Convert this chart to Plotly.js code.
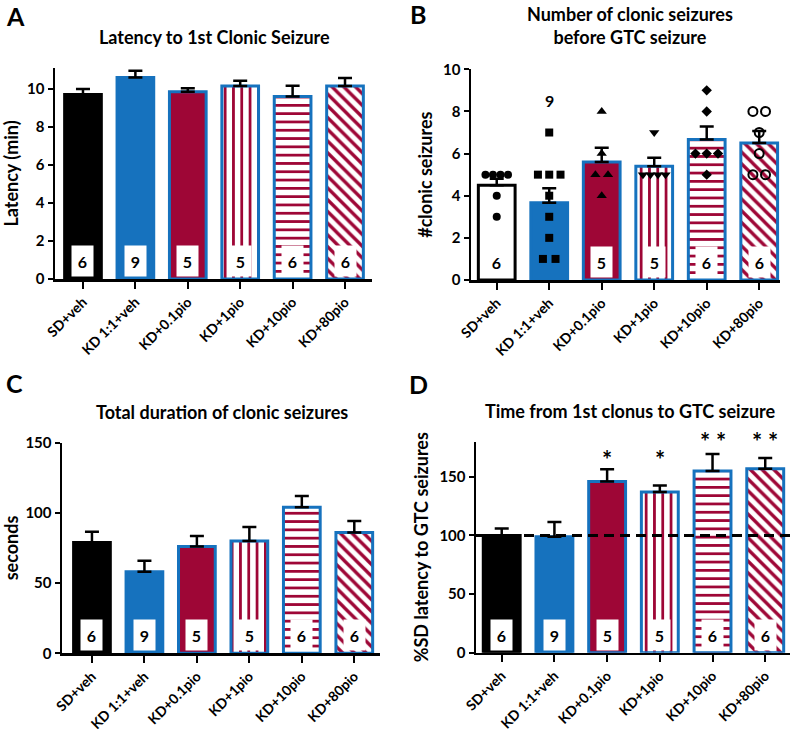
<!DOCTYPE html>
<html>
<head>
<meta charset="utf-8">
<script src="https://cdn.plot.ly/plotly-3.0.1.min.js"></script>
<style>html,body{margin:0;padding:0;background:#fff;}#chart{width:800px;height:731px;}</style>
</head>
<body>
<div id="chart"></div>
<script>
// ---------------- data ----------------
const categories = ['SD+veh', 'KD 1:1+veh', 'KD+0.1pio', 'KD+1pio', 'KD+10pio', 'KD+80pio'];
const nAnimals = [6, 9, 5, 5, 6, 6];

const latencyMean = [9.7, 10.6, 9.85, 10.15, 9.6, 10.15];
const latencySem = [0.3, 0.35, 0.18, 0.28, 0.57, 0.42];

const clonicMean = [4.5, 3.67, 5.6, 5.4, 6.67, 6.5];
const clonicSem = [0.3, 0.68, 0.68, 0.4, 0.61, 0.57];
const clonicPoints = [
  [5, 5, 5, 5, 4, 3],
  [7, 5, 5, 5, 4, 3, 2, 1, 1],
  [8, 6, 5, 5, 4],
  [7, 5, 5, 5, 5],
  [9, 8, 6, 6, 6, 5],
  [8, 8, 7, 6, 5, 5]
];

const durationMean = [79, 58, 76, 80, 104, 86];
const durationSem = [7.6, 8, 7.6, 10, 8, 8.3];

const gtcMean = [100, 99, 146, 137, 155, 157];
const gtcSem = [6, 12.5, 10.5, 5.7, 14.5, 9];
const gtcSig = ['', '', '*', '*', '**', '**'];

// ---------------- styles ----------------
const BLUE = '#1672be';
const CRIMSON = '#9e0636';
const FONT = 'Lato, "Open Sans", Arial, sans-serif';
const xs = categories.map((c, i) => i);
const fills = ['black', BLUE, CRIMSON, 'white', 'white', 'white'];
const lines = ['black', BLUE, BLUE, BLUE, BLUE, BLUE];
const patterns = ['', '', '', '|', '-', '\\'];

const traces = [];
function addBars(mean, sem, xa, ya, firstFill) {
  categories.forEach((c, i) => {
    const marker = {color: i === 0 ? firstFill : fills[i], line: {color: lines[i], width: 3}};
    if (patterns[i]) {
      marker.pattern = {shape: patterns[i], fgcolor: CRIMSON, bgcolor: 'white',
                        fillmode: 'replace', size: 8.3, solidity: patterns[i] === '\\' ? 0.4 : 0.34};
    }
    traces.push({
      type: 'bar', x: [xs[i]], y: [mean[i]], xaxis: xa, yaxis: ya, width: 0.7,
      marker: marker,
      error_y: {type: 'data', symmetric: false, array: [sem[i]], arrayminus: [0],
                color: 'black', thickness: 2.5, width: 7},
      hoverinfo: 'skip', showlegend: false
    });
  });
}
addBars(latencyMean, latencySem, 'x', 'y', 'black');
addBars(clonicMean, clonicSem, 'x2', 'y2', 'white');
addBars(durationMean, durationSem, 'x3', 'y3', 'black');
addBars(gtcMean, gtcSem, 'x4', 'y4', 'black');

// individual points in panel B, spread side by side where values coincide
const symbols = ['circle', 'square', 'triangle-up', 'triangle-down', 'diamond', 'circle-open'];
clonicPoints.forEach((pts, i) => {
  const counts = {}, seen = {};
  pts.forEach(v => counts[v] = (counts[v] || 0) + 1);
  const px = pts.map(v => {
    const k = counts[v];
    const j = seen[v] = (seen[v] === undefined ? 0 : seen[v] + 1);
    const sp = k > 1 ? Math.min(0.24, 0.43 / (k - 1)) : 0;
    return i + (j - (k - 1) / 2) * sp;
  });
  traces.push({
    type: 'scatter', mode: 'markers', x: px, y: pts, xaxis: 'x2', yaxis: 'y2',
    marker: {symbol: symbols[i], color: 'black', size: i === 5 ? 9 : (i >= 2 && i <= 3 ? 9 : 8),
             line: {color: 'black', width: i === 5 ? 2 : 0}},
    cliponaxis: false, hoverinfo: 'skip', showlegend: false
  });
});

const tickFont = {family: FONT, size: 15, color: 'black', weight: 'bold'};
function xAxis(domain, range, anchor) {
  return {domain: domain, range: range, anchor: anchor, tickmode: 'array', tickvals: xs,
          ticktext: categories, tickangle: -45, showline: true, linecolor: 'black', linewidth: 2.5,
          ticks: 'outside', ticklen: 7, tickwidth: 2, tickcolor: 'black', showgrid: false,
          zeroline: false, tickfont: {family: FONT, size: 14, color: 'black', weight: 'bold'},
          fixedrange: true};
}
function yAxis(domain, range, dtick, anchor, title) {
  return {domain: domain, range: range, anchor: anchor, dtick: dtick, tick0: 0, showline: true,
          linecolor: 'black', linewidth: 2.5, ticks: 'outside', ticklen: 5, tickwidth: 2,
          tickcolor: 'black', showgrid: false, zeroline: false, tickfont: tickFont,
          title: {text: title, font: {family: FONT, size: 18, color: 'black', weight: 'bold'}, standoff: 6},
          fixedrange: true};
}

const annotations = [];
function nLabels(xa, ya, skipIndex, altY) {
  nAnimals.forEach((n, i) => {
    if (i === skipIndex) {
      annotations.push({x: i, y: altY, xref: xa, yref: ya, text: String(n), showarrow: false,
        font: {family: FONT, size: 16, color: 'black', weight: 'bold'}});
    } else {
      annotations.push({x: i, y: 0, xref: xa, yref: ya, yanchor: 'bottom', yshift: 2,
        text: String(n), showarrow: false, bgcolor: 'white', width: 19, height: 28,
        font: {family: FONT, size: 16, color: 'black', weight: 'bold'}});
    }
  });
}
nLabels('x', 'y', -1);
nLabels('x2', 'y2', 1, Math.max(...clonicPoints[1]) + 1.5);
nLabels('x3', 'y3', -1);
nLabels('x4', 'y4', -1);

gtcSig.forEach((s, i) => {
  if (!s) return;
  annotations.push({x: i, y: s.length > 1 ? 180 : 165, xref: 'x4', yref: 'y4', yanchor: 'middle',
    text: s.split('').join(' '), showarrow: false,
    font: {family: FONT, size: 24, color: 'black', weight: 'bold'}});
});

function paperText(text, px, py, size) {
  annotations.push({x: px / 800, y: 1 - py / 731, xref: 'paper', yref: 'paper', text: text,
    showarrow: false, xanchor: 'center', yanchor: 'middle',
    font: {family: FONT, size: size, color: 'black', weight: 'bold'}});
}
paperText('A', 15, 16, 25);
paperText('B', 418, 14, 25);
paperText('C', 14, 383, 25);
paperText('D', 418, 384, 25);
paperText('Latency to 1st Clonic Seizure', 214, 37, 18);
paperText('Number of clonic seizures<br>before GTC seizure', 630, 25, 18);
paperText('Total duration of clonic seizures', 222, 412, 18);
paperText('Time from 1st clonus to GTC seizure', 630, 411, 18);

const dy = (a, b) => [1 - a / 731, 1 - b / 731];
const layout = {
  width: 800, height: 731, margin: {l: 0, r: 0, t: 0, b: 0},
  paper_bgcolor: 'white', plot_bgcolor: 'white', barmode: 'overlay', showlegend: false,
  font: {family: FONT, color: 'black'},
  xaxis: xAxis([55 / 800, 372 / 800], [-0.534, 5.515], 'y'),
  yaxis: yAxis(dy(279, 68), [0, 11.1], 2, 'x', 'Latency (min)'),
  xaxis2: xAxis([471 / 800, 780 / 800], [-0.49, 5.396], 'y2'),
  yaxis2: yAxis(dy(280, 69.3), [0, 10], 2, 'x2', '#clonic seizures'),
  xaxis3: xAxis([62 / 800, 380 / 800], [-0.571, 5.49], 'y3'),
  yaxis3: yAxis(dy(653.3, 442.7), [0, 150], 50, 'x3', 'seconds'),
  xaxis4: xAxis([476 / 800, 790 / 800], [-0.488, 5.47], 'y4'),
  yaxis4: yAxis(dy(652.7, 441.7), [0, 180], 50, 'x4', '%SD latency to GTC seizures'),
  shapes: [{type: 'line', xref: 'x4', yref: 'y4', x0: -0.488, x1: 5.55, y0: gtcMean[0], y1: gtcMean[0],
            line: {color: 'black', width: 3, dash: '10px,6px'}, layer: 'above'}],
  annotations: annotations
};

Plotly.newPlot('chart', traces, layout, {staticPlot: true, displayModeBar: false});
</script>
</body>
</html>
